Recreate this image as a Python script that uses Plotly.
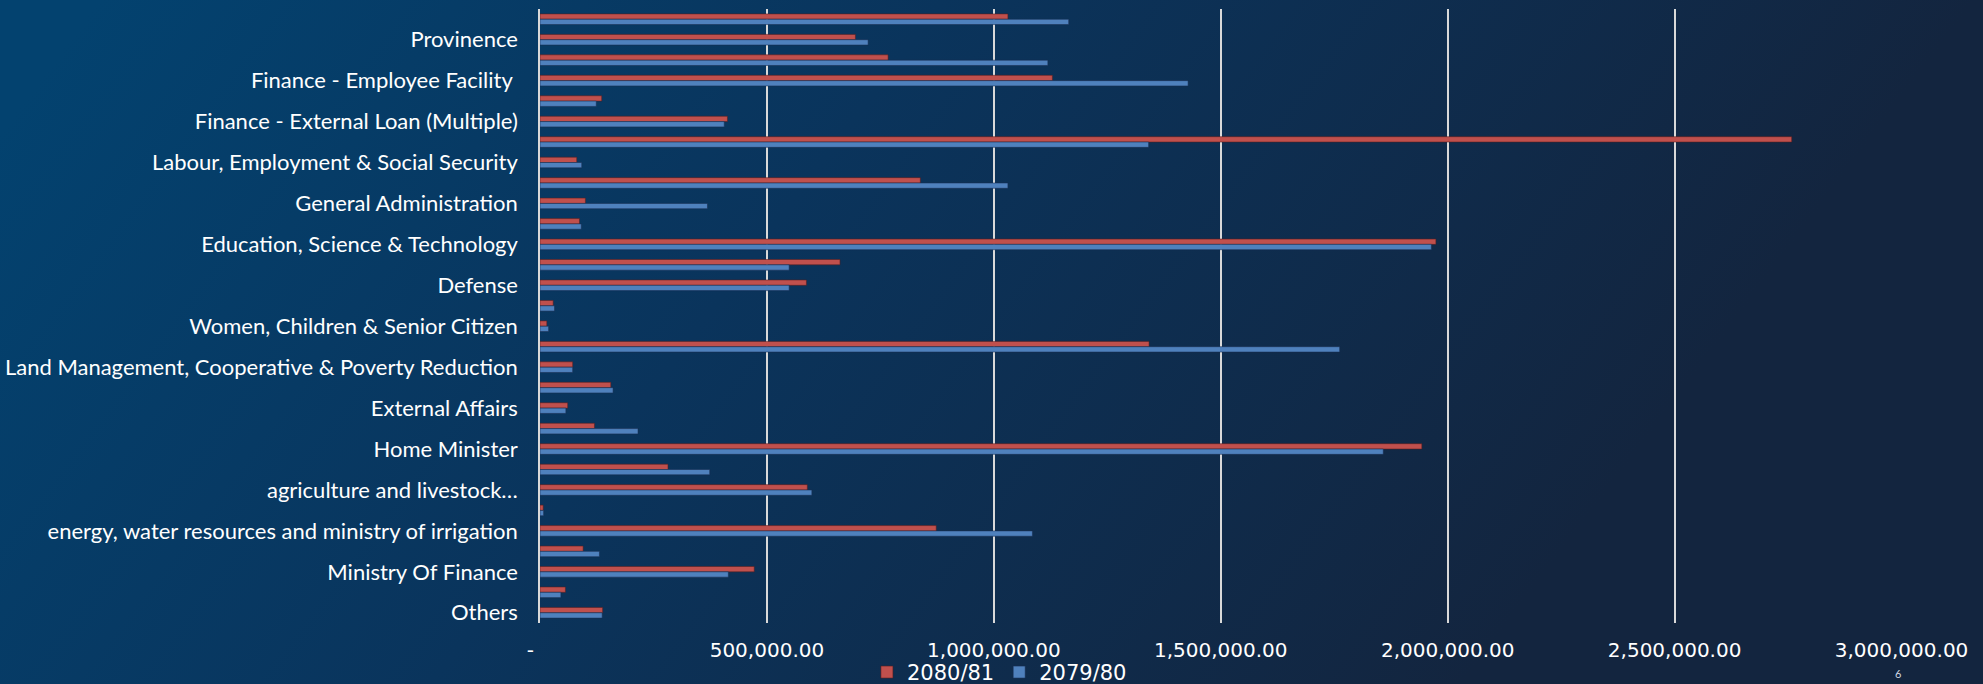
import base64
import plotly.graph_objects as go

# ---- data (top to bottom), values in NPR thousand ----
labels = [
    "", "Provinence", "", "Finance - Employee Facility\u00a0", "",
    "Finance - External Loan (Multiple)", "", "Labour, Employment & Social Security", "",
    "General Administration", "", "Education, Science & Technology", "", "Defense", "",
    "Women, Children & Senior Citizen", "", "Land Management, Cooperative & Poverty Reduction", "",
    "External Affairs", "", "Home Minister", "", "agriculture and livestock\u2026", "",
    "energy, water resources and ministry of irrigation", "", "Ministry Of Finance", "", "Others",
]
rows = list(range(len(labels)))

fy_2080_81 = [
    1031000, 695000, 767000, 1129000, 136000, 413000, 2758000, 81000, 838000, 100000,
    87000, 1974000, 661000, 587000, 29000, 15000, 1342000, 72000, 156000, 61000,
    120000, 1943000, 282000, 589000, 7000, 873000, 95000, 472000, 56000, 138000,
]
fy_2079_80 = [
    1165000, 723000, 1119000, 1428000, 124000, 406000, 1341000, 92000, 1031000, 369000,
    91000, 1964000, 549000, 549000, 32000, 19000, 1762000, 72000, 161000, 57000,
    216000, 1858000, 374000, 599000, 8000, 1085000, 131000, 415000, 46000, 137000,
]

x_tickvals = [0, 500000, 1000000, 1500000, 2000000, 2500000, 3000000]
x_ticktext = ["-\u00a0\u00a0\u00a0", "500,000.00", "1,000,000.00", "1,500,000.00",
              "2,000,000.00", "2,500,000.00", "3,000,000.00"]

W, H = 1983, 684

svg = f'''<svg xmlns="http://www.w3.org/2000/svg" width="{W}" height="{H}" viewBox="0 0 {W} {H}">
<defs><linearGradient id="g" gradientUnits="userSpaceOnUse" x1="250" y1="-200" x2="1450" y2="700">
<stop offset="0" stop-color="#03426f"/><stop offset="0.45" stop-color="#0a345c"/>
<stop offset="1" stop-color="#13253f"/></linearGradient></defs>
<rect width="{W}" height="{H}" fill="url(#g)"/></svg>'''
bg = "data:image/svg+xml;base64," + base64.b64encode(svg.encode()).decode()

fig = go.Figure()
fig.add_trace(go.Bar(
    name="2080/81", y=rows, x=fy_2080_81, orientation="h",
    marker=dict(color="#c0504d", line=dict(color="rgba(90,30,30,0.55)", width=1)),
))
fig.add_trace(go.Bar(
    name="2079/80", y=rows, x=fy_2079_80, orientation="h",
    marker=dict(color="#4f81bd", line=dict(color="rgba(25,45,80,0.55)", width=1)),
))

tick_rows = [i for i, l in enumerate(labels) if l]
tick_text = [labels[i] for i in tick_rows]

fig.update_layout(
    width=W, height=H,
    margin=dict(l=0, r=0, t=0, b=0, autoexpand=False),
    paper_bgcolor="#0a335b", plot_bgcolor="rgba(0,0,0,0)",
    images=[dict(source=bg, xref="paper", yref="paper", x=0, y=1, sizex=1, sizey=1,
                 sizing="stretch", xanchor="left", yanchor="top", layer="below")],
    barmode="group", bargap=0.48, bargroupgap=0,
    font=dict(family="Lato", color="white", size=20),
    showlegend=True,
    legend=dict(orientation="h", x=0.504, xanchor="center", y=-0.013, yanchor="bottom",
                font=dict(family="DejaVu Sans", size=21, color="white"),
                bgcolor="rgba(0,0,0,0)", traceorder="normal", itemwidth=30),
    xaxis=dict(domain=[540 / W, 1902 / W], range=[0, 3001000], automargin=False,
               tickvals=x_tickvals, ticktext=x_ticktext, showgrid=True,
               gridcolor="#d9d9d9", gridwidth=1.5, zeroline=False, showline=False,
               ticks="outside", ticklen=9, tickcolor="rgba(0,0,0,0)",
               tickfont=dict(family="DejaVu Sans", size=20, color="white")),
    yaxis=dict(domain=[1 - 623 / H, 1 - 9 / H], range=[29.5, -0.5], automargin=False,
               tickvals=tick_rows, ticktext=tick_text, showgrid=False, zeroline=False,
               showline=True, linecolor="#d9d9d9", linewidth=1.5,
               ticks="outside", ticklen=16, tickcolor="rgba(0,0,0,0)",
               tickfont=dict(family="Lato", size=22, color="white")),
    annotations=[dict(text="6", x=1898 / W, y=2 / H, xref="paper", yref="paper",
                      xanchor="center", yanchor="bottom",
                      showarrow=False, font=dict(size=11, color="#cfd6e0"))],
)

fig.write_html("out.html")
